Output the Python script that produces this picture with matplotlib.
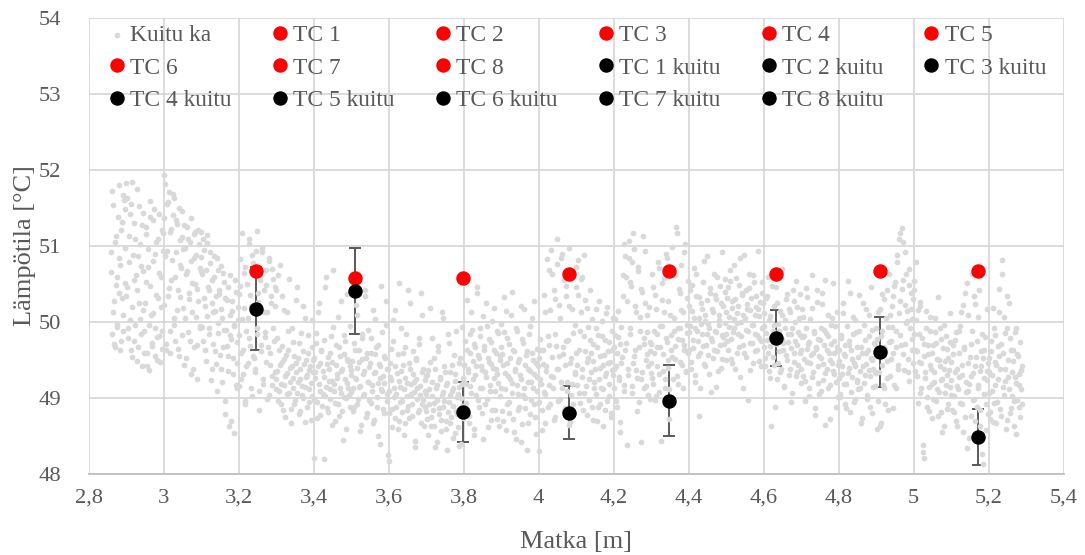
import matplotlib
matplotlib.use("Agg")
import matplotlib.pyplot as plt

plt.rcParams['font.family'] = ['Liberation Serif', 'DejaVu Serif']

# Fibre (DTS) temperature along the pipe
fiber_x = [
    2.861, 2.863, 2.866, 2.868, 2.871, 2.873, 2.876, 2.878, 2.881, 2.883, 2.886, 2.888, 2.891, 2.893, 2.896, 2.898,
    2.901, 2.903, 2.906, 2.908, 2.911, 2.914, 2.916, 2.918, 2.921, 2.924, 2.927, 2.929, 2.931, 2.934, 2.937, 2.939, 2.942, 2.944, 2.946, 2.949,
    2.952, 2.954, 2.957, 2.959, 2.962, 2.964, 2.967, 2.970, 2.972, 2.974, 2.977, 2.980, 2.982, 2.985, 2.987, 2.989, 2.992, 2.995, 2.997, 2.999,
    3.001, 3.003, 3.006, 3.008, 3.011, 3.014, 3.016, 3.018, 3.021, 3.024, 3.027, 3.029, 3.031, 3.034, 3.037, 3.039, 3.042, 3.044, 3.046, 3.049,
    3.052, 3.054, 3.057, 3.059, 3.062, 3.064, 3.067, 3.070, 3.072, 3.074, 3.077, 3.080, 3.082, 3.085, 3.087, 3.089, 3.092, 3.095, 3.097, 3.099,
    3.101, 3.103, 3.106, 3.108, 3.111, 3.114, 3.116, 3.118, 3.121, 3.124, 3.127, 3.129, 3.131, 3.134, 3.137, 3.139, 3.142, 3.144, 3.146, 3.149,
    3.152, 3.154, 3.157, 3.159, 3.162, 3.164, 3.167, 3.170, 3.172, 3.174, 3.177, 3.180, 3.182, 3.185, 3.187, 3.189, 3.192, 3.195, 3.197, 3.199,
    3.201, 3.203, 3.206, 3.208, 3.211, 3.214, 3.216, 3.218, 3.221, 3.224, 3.227, 3.229, 3.231, 3.234, 3.237, 3.239, 3.242, 3.244, 3.246, 3.249,
    3.252, 3.254, 3.257, 3.259, 3.262, 3.264, 3.267, 3.270, 3.272, 3.274, 3.277, 3.280, 3.282, 3.285, 3.287, 3.289, 3.292, 3.295, 3.297, 3.299,
    3.301, 3.303, 3.306, 3.308, 3.311, 3.314, 3.316, 3.318, 3.321, 3.324, 3.327, 3.329, 3.331, 3.334, 3.337, 3.339, 3.342, 3.344, 3.346, 3.349,
    3.352, 3.354, 3.357, 3.359, 3.362, 3.364, 3.367, 3.370, 3.372, 3.374, 3.377, 3.380, 3.382, 3.385, 3.387, 3.389, 3.392, 3.395, 3.397, 3.399,
    3.401, 3.403, 3.406, 3.408, 3.411, 3.414, 3.416, 3.418, 3.421, 3.424, 3.427, 3.429, 3.431, 3.434, 3.437, 3.439, 3.442, 3.444, 3.446, 3.449,
    3.452, 3.454, 3.457, 3.459, 3.462, 3.464, 3.467, 3.470, 3.472, 3.474, 3.477, 3.480, 3.482, 3.485, 3.487, 3.489, 3.492, 3.495, 3.497, 3.499,
    3.501, 3.503, 3.506, 3.508, 3.511, 3.514, 3.516, 3.518, 3.521, 3.524, 3.527, 3.529, 3.531, 3.534, 3.537, 3.539, 3.542, 3.544, 3.546, 3.549,
    3.552, 3.554, 3.557, 3.559, 3.562, 3.564, 3.567, 3.570, 3.572, 3.574, 3.577, 3.580, 3.582, 3.585, 3.587, 3.589, 3.592, 3.595, 3.597, 3.599,
    3.601, 3.603, 3.606, 3.608, 3.611, 3.614, 3.616, 3.618, 3.621, 3.624, 3.627, 3.629, 3.631, 3.634, 3.637, 3.639, 3.642, 3.644, 3.646, 3.649,
    3.652, 3.654, 3.657, 3.659, 3.662, 3.664, 3.667, 3.670, 3.672, 3.674, 3.677, 3.680, 3.682, 3.685, 3.687, 3.689, 3.692, 3.695, 3.697, 3.699,
    3.701, 3.703, 3.706, 3.708, 3.711, 3.714, 3.716, 3.718, 3.721, 3.724, 3.727, 3.729, 3.731, 3.734, 3.737, 3.739, 3.742, 3.744, 3.746, 3.749,
    3.752, 3.754, 3.757, 3.759, 3.762, 3.764, 3.767, 3.770, 3.772, 3.774, 3.777, 3.780, 3.782, 3.785, 3.787, 3.789, 3.792, 3.795, 3.797, 3.799,
    3.801, 3.803, 3.806, 3.808, 3.811, 3.814, 3.816, 3.818, 3.821, 3.824, 3.827, 3.829, 3.831, 3.834, 3.837, 3.839, 3.842, 3.844, 3.846, 3.849,
    3.852, 3.854, 3.857, 3.859, 3.862, 3.864, 3.867, 3.870, 3.872, 3.874, 3.877, 3.880, 3.882, 3.885, 3.887, 3.889, 3.892, 3.895, 3.897, 3.899,
    3.901, 3.903, 3.906, 3.908, 3.911, 3.914, 3.916, 3.918, 3.921, 3.924, 3.927, 3.929, 3.931, 3.934, 3.937, 3.939, 3.942, 3.944, 3.946, 3.949,
    3.952, 3.954, 3.957, 3.959, 3.962, 3.964, 3.967, 3.970, 3.972, 3.974, 3.977, 3.980, 3.982, 3.985, 3.987, 3.989, 3.992, 3.995, 3.997, 3.999,
    4.001, 4.003, 4.006, 4.008, 4.011, 4.014, 4.016, 4.018, 4.021, 4.024, 4.027, 4.029, 4.031, 4.034, 4.037, 4.039, 4.042, 4.044, 4.046, 4.049,
    4.052, 4.054, 4.057, 4.059, 4.062, 4.064, 4.067, 4.070, 4.072, 4.074, 4.077, 4.080, 4.082, 4.085, 4.087, 4.089, 4.092, 4.095, 4.097, 4.099,
    4.101, 4.103, 4.106, 4.108, 4.111, 4.114, 4.116, 4.118, 4.121, 4.124, 4.127, 4.129, 4.131, 4.134, 4.137, 4.139, 4.142, 4.144, 4.146, 4.149,
    4.152, 4.154, 4.157, 4.159, 4.162, 4.164, 4.167, 4.170, 4.172, 4.174, 4.177, 4.180, 4.182, 4.185, 4.187, 4.189, 4.192, 4.195, 4.197, 4.199,
    4.201, 4.203, 4.206, 4.208, 4.211, 4.214, 4.216, 4.218, 4.221, 4.224, 4.227, 4.229, 4.231, 4.234, 4.237, 4.239, 4.242, 4.244, 4.246, 4.249,
    4.252, 4.254, 4.257, 4.259, 4.262, 4.264, 4.267, 4.270, 4.272, 4.274, 4.277, 4.280, 4.282, 4.285, 4.287, 4.289, 4.292, 4.295, 4.297, 4.299,
    4.301, 4.303, 4.306, 4.308, 4.311, 4.314, 4.316, 4.318, 4.321, 4.324, 4.327, 4.329, 4.331, 4.334, 4.337, 4.339, 4.342, 4.344, 4.346, 4.349,
    4.352, 4.354, 4.357, 4.359, 4.362, 4.364, 4.367, 4.370, 4.372, 4.374, 4.377, 4.380, 4.382, 4.385, 4.387, 4.389, 4.392, 4.395, 4.397, 4.399,
    4.401, 4.403, 4.406, 4.408, 4.411, 4.414, 4.416, 4.418, 4.421, 4.424, 4.427, 4.429, 4.431, 4.434, 4.437, 4.439, 4.442, 4.444, 4.446, 4.449,
    4.452, 4.454, 4.457, 4.459, 4.462, 4.464, 4.467, 4.470, 4.472, 4.474, 4.477, 4.480, 4.482, 4.485, 4.487, 4.489, 4.492, 4.495, 4.497, 4.499,
    4.501, 4.503, 4.506, 4.508, 4.511, 4.514, 4.516, 4.518, 4.521, 4.524, 4.527, 4.529, 4.531, 4.534, 4.537, 4.539, 4.542, 4.544, 4.546, 4.549,
    4.552, 4.554, 4.557, 4.559, 4.562, 4.564, 4.567, 4.570, 4.572, 4.574, 4.577, 4.580, 4.582, 4.585, 4.587, 4.589, 4.592, 4.595, 4.597, 4.599,
    4.601, 4.603, 4.606, 4.608, 4.611, 4.614, 4.616, 4.618, 4.621, 4.624, 4.627, 4.629, 4.631, 4.634, 4.637, 4.639, 4.642, 4.644, 4.646, 4.649,
    4.652, 4.654, 4.657, 4.659, 4.662, 4.664, 4.667, 4.670, 4.672, 4.674, 4.677, 4.680, 4.682, 4.685, 4.687, 4.689, 4.692, 4.695, 4.697, 4.699,
    4.701, 4.703, 4.706, 4.708, 4.711, 4.714, 4.716, 4.718, 4.721, 4.724, 4.727, 4.729, 4.731, 4.734, 4.737, 4.739, 4.742, 4.744, 4.746, 4.749,
    4.752, 4.754, 4.757, 4.759, 4.762, 4.764, 4.767, 4.770, 4.772, 4.774, 4.777, 4.780, 4.782, 4.785, 4.787, 4.789, 4.792, 4.795, 4.797, 4.799,
    4.801, 4.803, 4.806, 4.808, 4.811, 4.814, 4.816, 4.818, 4.821, 4.824, 4.827, 4.829, 4.831, 4.834, 4.837, 4.839, 4.842, 4.844, 4.846, 4.849,
    4.852, 4.854, 4.857, 4.859, 4.862, 4.864, 4.867, 4.870, 4.872, 4.874, 4.877, 4.880, 4.882, 4.885, 4.887, 4.889, 4.892, 4.895, 4.897, 4.899,
    4.901, 4.903, 4.906, 4.908, 4.911, 4.914, 4.916, 4.918, 4.921, 4.924, 4.927, 4.929, 4.931, 4.934, 4.937, 4.939, 4.942, 4.944, 4.946, 4.949,
    4.952, 4.954, 4.957, 4.959, 4.962, 4.964, 4.967, 4.970, 4.972, 4.974, 4.977, 4.980, 4.982, 4.985, 4.987, 4.989, 4.992, 4.995, 4.997, 4.999,
    5.001, 5.003, 5.006, 5.008, 5.011, 5.014, 5.016, 5.018, 5.021, 5.024, 5.027, 5.029, 5.031, 5.034, 5.037, 5.039, 5.042, 5.044, 5.046, 5.049,
    5.052, 5.054, 5.057, 5.059, 5.062, 5.064, 5.067, 5.070, 5.072, 5.074, 5.077, 5.080, 5.082, 5.085, 5.087, 5.089, 5.092, 5.095, 5.097, 5.099,
    5.101, 5.103, 5.106, 5.108, 5.111, 5.114, 5.116, 5.118, 5.121, 5.124, 5.127, 5.129, 5.131, 5.134, 5.137, 5.139, 5.142, 5.144, 5.146, 5.149,
    5.152, 5.154, 5.157, 5.159, 5.162, 5.164, 5.167, 5.170, 5.172, 5.174, 5.177, 5.180, 5.182, 5.185, 5.187, 5.189, 5.192, 5.195, 5.197, 5.199,
    5.201, 5.203, 5.206, 5.208, 5.211, 5.214, 5.216, 5.218, 5.221, 5.224, 5.227, 5.229, 5.231, 5.234, 5.237, 5.239, 5.242, 5.244, 5.246, 5.249,
    5.252, 5.254, 5.257, 5.259, 5.262, 5.264, 5.267, 5.270, 5.272, 5.274, 5.277, 5.280, 5.282, 5.285, 5.287, 5.289,
    # interleaved samples
    2.860, 2.862, 2.865, 2.867, 2.870, 2.872, 2.875, 2.877, 2.880, 2.882, 2.885, 2.887, 2.890, 2.892, 2.895, 2.897,
    2.900, 2.902, 2.905, 2.907, 2.910, 2.912, 2.915, 2.917, 2.920, 2.922, 2.925, 2.928, 2.930, 2.933, 2.935, 2.938, 2.940, 2.943, 2.945, 2.948,
    2.950, 2.953, 2.955, 2.958, 2.960, 2.963, 2.965, 2.968, 2.971, 2.973, 2.976, 2.978, 2.981, 2.983, 2.986, 2.988, 2.990, 2.993, 2.996, 2.998,
    3.000, 3.002, 3.005, 3.007, 3.010, 3.012, 3.015, 3.017, 3.020, 3.022, 3.025, 3.028, 3.030, 3.033, 3.035, 3.038, 3.040, 3.043, 3.045, 3.048,
    3.050, 3.053, 3.055, 3.058, 3.060, 3.063, 3.065, 3.068, 3.071, 3.073, 3.076, 3.078, 3.081, 3.083, 3.086, 3.088, 3.090, 3.093, 3.096, 3.098,
    3.100, 3.102, 3.105, 3.107, 3.110, 3.112, 3.115, 3.117, 3.120, 3.122, 3.125, 3.128, 3.130, 3.133, 3.135, 3.138, 3.140, 3.143, 3.145, 3.148,
    3.150, 3.153, 3.155, 3.158, 3.160, 3.163, 3.165, 3.168, 3.171, 3.173, 3.176, 3.178, 3.181, 3.183, 3.186, 3.188, 3.190, 3.193, 3.196, 3.198,
    3.200, 3.202, 3.205, 3.207, 3.210, 3.212, 3.215, 3.217, 3.220, 3.222, 3.225, 3.228, 3.230, 3.233, 3.235, 3.238, 3.240, 3.243, 3.245, 3.248,
    3.250, 3.253, 3.255, 3.258, 3.260, 3.263, 3.265, 3.268, 3.271, 3.273, 3.276, 3.278, 3.281, 3.283, 3.286, 3.288, 3.290, 3.293, 3.296, 3.298,
    3.300, 3.302, 3.305, 3.307, 3.310, 3.312, 3.315, 3.317, 3.320, 3.322, 3.325, 3.328, 3.330, 3.333, 3.335, 3.338, 3.340, 3.343, 3.345, 3.348,
    3.350, 3.353, 3.355, 3.358, 3.360, 3.363, 3.365, 3.368, 3.371, 3.373, 3.376, 3.378, 3.381, 3.383, 3.386, 3.388, 3.390, 3.393, 3.396, 3.398,
    3.400, 3.402, 3.405, 3.407, 3.410, 3.412, 3.415, 3.417, 3.420, 3.422, 3.425, 3.428, 3.430, 3.433, 3.435, 3.438, 3.440, 3.443, 3.445, 3.448,
    3.450, 3.453, 3.455, 3.458, 3.460, 3.463, 3.465, 3.468, 3.471, 3.473, 3.476, 3.478, 3.481, 3.483, 3.486, 3.488, 3.490, 3.493, 3.496, 3.498,
    3.500, 3.502, 3.505, 3.507, 3.510, 3.512, 3.515, 3.517, 3.520, 3.522, 3.525, 3.528, 3.530, 3.533, 3.535, 3.538, 3.540, 3.543, 3.545, 3.548,
    3.550, 3.553, 3.555, 3.558, 3.560, 3.563, 3.565, 3.568, 3.571, 3.573, 3.576, 3.578, 3.581, 3.583, 3.586, 3.588, 3.590, 3.593, 3.596, 3.598,
    3.600, 3.602, 3.605, 3.607, 3.610, 3.612, 3.615, 3.617, 3.620, 3.622, 3.625, 3.628, 3.630, 3.633, 3.635, 3.638, 3.640, 3.643, 3.645, 3.648,
    3.650, 3.653, 3.655, 3.658, 3.660, 3.663, 3.665, 3.668, 3.671, 3.673, 3.676, 3.678, 3.681, 3.683, 3.686, 3.688, 3.690, 3.693, 3.696, 3.698,
    3.700, 3.702, 3.705, 3.707, 3.710, 3.712, 3.715, 3.717, 3.720, 3.722, 3.725, 3.728, 3.730, 3.733, 3.735, 3.738, 3.740, 3.743, 3.745, 3.748,
    3.750, 3.753, 3.755, 3.758, 3.760, 3.763, 3.765, 3.768, 3.771, 3.773, 3.776, 3.778, 3.781, 3.783, 3.786, 3.788, 3.790, 3.793, 3.796, 3.798,
    3.800, 3.802, 3.805, 3.807, 3.810, 3.812, 3.815, 3.817, 3.820, 3.822, 3.825, 3.828, 3.830, 3.833, 3.835, 3.838, 3.840, 3.843, 3.845, 3.848,
    3.850, 3.853, 3.855, 3.858, 3.860, 3.863, 3.865, 3.868, 3.871, 3.873, 3.876, 3.878, 3.881, 3.883, 3.886, 3.888, 3.890, 3.893, 3.896, 3.898,
    3.900, 3.902, 3.905, 3.907, 3.910, 3.912, 3.915, 3.917, 3.920, 3.922, 3.925, 3.928, 3.930, 3.933, 3.935, 3.938, 3.940, 3.943, 3.945, 3.948,
    3.950, 3.953, 3.955, 3.958, 3.960, 3.963, 3.965, 3.968, 3.971, 3.973, 3.976, 3.978, 3.981, 3.983, 3.986, 3.988, 3.990, 3.993, 3.996, 3.998,
    4.000, 4.002, 4.005, 4.007, 4.010, 4.012, 4.015, 4.017, 4.020, 4.022, 4.025, 4.028, 4.030, 4.033, 4.035, 4.038, 4.040, 4.043, 4.045, 4.048,
    4.050, 4.053, 4.055, 4.058, 4.060, 4.063, 4.065, 4.068, 4.071, 4.073, 4.076, 4.078, 4.081, 4.083, 4.086, 4.088, 4.090, 4.093, 4.096, 4.098,
    4.100, 4.102, 4.105, 4.107, 4.110, 4.112, 4.115, 4.117, 4.120, 4.122, 4.125, 4.128, 4.130, 4.133, 4.135, 4.138, 4.140, 4.143, 4.145, 4.148,
    4.150, 4.153, 4.155, 4.158, 4.160, 4.163, 4.165, 4.168, 4.171, 4.173, 4.176, 4.178, 4.181, 4.183, 4.186, 4.188, 4.190, 4.193, 4.196, 4.198,
    4.200, 4.202, 4.205, 4.207, 4.210, 4.212, 4.215, 4.217, 4.220, 4.222, 4.225, 4.228, 4.230, 4.233, 4.235, 4.238, 4.240, 4.243, 4.245, 4.248,
    4.250, 4.253, 4.255, 4.258, 4.260, 4.263, 4.265, 4.268, 4.271, 4.273, 4.276, 4.278, 4.281, 4.283, 4.286, 4.288, 4.290, 4.293, 4.296, 4.298,
    4.300, 4.302, 4.305, 4.307, 4.310, 4.312, 4.315, 4.317, 4.320, 4.322, 4.325, 4.328, 4.330, 4.333, 4.335, 4.338, 4.340, 4.343, 4.345, 4.348,
    4.350, 4.353, 4.355, 4.358, 4.360, 4.363, 4.365, 4.368, 4.371, 4.373, 4.376, 4.378, 4.381, 4.383, 4.386, 4.388, 4.390, 4.393, 4.396, 4.398,
    4.400, 4.402, 4.405, 4.407, 4.410, 4.412, 4.415, 4.417, 4.420, 4.422, 4.425, 4.428, 4.430, 4.433, 4.435, 4.438, 4.440, 4.443, 4.445, 4.448,
    4.450, 4.453, 4.455, 4.458, 4.460, 4.463, 4.465, 4.468, 4.471, 4.473, 4.476, 4.478, 4.481, 4.483, 4.486, 4.488, 4.490, 4.493, 4.496, 4.498,
    4.500, 4.502, 4.505, 4.507, 4.510, 4.512, 4.515, 4.517, 4.520, 4.522, 4.525, 4.528, 4.530, 4.533, 4.535, 4.538, 4.540, 4.543, 4.545, 4.548,
    4.550, 4.553, 4.555, 4.558, 4.560, 4.563, 4.565, 4.568, 4.571, 4.573, 4.576, 4.578, 4.581, 4.583, 4.586, 4.588, 4.590, 4.593, 4.596, 4.598,
    4.600, 4.602, 4.605, 4.607, 4.610, 4.612, 4.615, 4.617, 4.620, 4.622, 4.625, 4.628, 4.630, 4.633, 4.635, 4.638, 4.640, 4.643, 4.645, 4.648,
    4.650, 4.653, 4.655, 4.658, 4.660, 4.663, 4.665, 4.668, 4.671, 4.673, 4.676, 4.678, 4.681, 4.683, 4.686, 4.688, 4.690, 4.693, 4.696, 4.698,
    4.700, 4.702, 4.705, 4.707, 4.710, 4.712, 4.715, 4.717, 4.720, 4.722, 4.725, 4.728, 4.730, 4.733, 4.735, 4.738, 4.740, 4.743, 4.745, 4.748,
    4.750, 4.753, 4.755, 4.758, 4.760, 4.763, 4.765, 4.768, 4.771, 4.773, 4.776, 4.778, 4.781, 4.783, 4.786, 4.788, 4.790, 4.793, 4.796, 4.798,
    4.800, 4.802, 4.805, 4.807, 4.810, 4.812, 4.815, 4.817, 4.820, 4.822, 4.825, 4.828, 4.830, 4.833, 4.835, 4.838, 4.840, 4.843, 4.845, 4.848,
    4.850, 4.853, 4.855, 4.858, 4.860, 4.863, 4.865, 4.868, 4.871, 4.873, 4.876, 4.878, 4.881, 4.883, 4.886, 4.888, 4.890, 4.893, 4.896, 4.898,
    4.900, 4.902, 4.905, 4.907, 4.910, 4.912, 4.915, 4.917, 4.920, 4.922, 4.925, 4.928, 4.930, 4.933, 4.935, 4.938, 4.940, 4.943, 4.945, 4.948,
    4.950, 4.953, 4.955, 4.958, 4.960, 4.963, 4.965, 4.968, 4.971, 4.973, 4.976, 4.978, 4.981, 4.983, 4.986, 4.988, 4.990, 4.993, 4.996, 4.998,
    5.000, 5.002, 5.005, 5.007, 5.010, 5.012, 5.015, 5.017, 5.020, 5.022, 5.025, 5.028, 5.030, 5.033, 5.035, 5.038, 5.040, 5.043, 5.045, 5.048,
    5.050, 5.053, 5.055, 5.058, 5.060, 5.063, 5.065, 5.068, 5.071, 5.073, 5.076, 5.078, 5.081, 5.083, 5.086, 5.088, 5.090, 5.093, 5.096, 5.098,
    5.100, 5.102, 5.105, 5.107, 5.110, 5.112, 5.115, 5.117, 5.120, 5.122, 5.125, 5.128, 5.130, 5.133, 5.135, 5.138, 5.140, 5.143, 5.145, 5.148,
    5.150, 5.153, 5.155, 5.158, 5.160, 5.163, 5.165, 5.168, 5.171, 5.173, 5.176, 5.178, 5.181, 5.183, 5.186, 5.188, 5.190, 5.193, 5.196, 5.198,
    5.200, 5.202, 5.205, 5.207, 5.210, 5.212, 5.215, 5.217, 5.220, 5.222, 5.225, 5.228, 5.230, 5.233, 5.235, 5.238, 5.240, 5.243, 5.245, 5.248,
    5.250, 5.253, 5.255, 5.258, 5.260, 5.263, 5.265, 5.268, 5.271, 5.273, 5.276, 5.278, 5.281, 5.283, 5.286, 5.288,
]
fiber_y = [
    50.65, 51.72, 50.12, 49.71, 51.05, 50.48, 49.93, 51.38, 50.84, 49.62, 51.20, 50.31, 51.66, 49.88, 50.97, 51.48,
    51.82, 50.45, 49.78, 51.12, 50.02, 51.55, 49.53, 50.88, 51.30, 49.95, 50.61, 51.74, 49.66, 50.24, 51.02, 50.73, 49.41, 51.43, 50.15, 49.87,
    51.25, 50.52, 49.58, 50.96, 49.36, 51.37, 50.08, 49.72, 50.80, 51.48, 49.92, 50.35, 49.50, 51.08, 50.64, 49.81, 50.19, 51.21, 49.64, 50.93,
    51.93, 50.86, 49.62, 51.54, 50.33, 51.71, 49.88, 51.18, 50.55, 51.40, 50.04, 51.62, 49.74, 50.92, 51.28, 50.41, 49.55, 51.07, 50.70, 51.46,
    50.18, 49.43, 50.97, 50.62, 51.24, 49.86, 50.38, 51.05, 49.31, 50.79, 50.12, 51.15, 49.67, 50.49, 50.88, 49.25, 50.27, 51.02, 49.94, 50.66,
    51.18, 50.62, 49.75, 50.94, 50.21, 49.48, 51.03, 50.46, 49.92, 50.77, 49.23, 50.55, 50.12, 50.86, 49.61, 50.34, 49.08, 50.68, 49.85, 50.41,
    49.37, 50.73, 50.05, 49.66, 50.52, 48.95, 49.89, 50.28, 49.54, 48.62, 50.61, 49.77, 50.14, 49.31, 49.96, 48.53, 50.39, 49.45, 49.12, 50.02,
    49.82, 50.47, 49.25, 51.16, 49.63, 50.18, 48.96, 50.72, 49.41, 50.05, 51.02, 49.78, 50.35, 49.12, 50.88, 49.55, 50.61, 49.34, 50.93, 49.92,
    50.26, 48.84, 50.54, 49.69, 50.97, 49.18, 50.41, 49.86, 50.68, 49.47, 50.12, 49.03, 50.79, 49.59, 50.33, 49.28, 50.56, 49.74, 50.21, 49.11,
    50.42, 49.35, 48.96, 49.62, 50.74, 49.18, 49.47, 48.83, 50.15, 49.28, 49.56, 49.04, 49.88, 50.56, 49.21, 48.67, 49.41, 49.13, 49.73, 48.92,
    49.33, 50.28, 49.06, 49.52, 48.78, 49.24, 49.85, 49.15, 48.99, 49.44, 50.05, 49.27, 48.88, 49.58, 49.11, 49.36, 48.71, 49.67, 49.02, 49.49,
    48.21, 49.33, 49.72, 48.94, 50.12, 49.18, 49.46, 48.77, 49.61, 49.05, 48.19, 49.27, 50.45, 49.14, 48.86, 49.53, 49.38, 48.98, 49.81, 49.22,
    50.68, 49.09, 48.69, 49.43, 49.26, 48.91, 49.67, 49.12, 50.27, 49.35, 48.82, 49.57, 49.01, 49.74, 48.58, 49.19, 49.48, 49.03, 49.94, 49.29,
    49.36, 50.58, 49.12, 48.87, 49.63, 49.24, 50.08, 48.98, 49.47, 49.15, 48.64, 49.78, 49.31, 49.05, 50.34, 49.52, 48.79, 49.21, 49.89, 49.40,
    48.93, 49.58, 49.17, 50.15, 48.71, 49.33, 49.66, 49.01, 48.49, 49.44, 49.26, 50.47, 49.09, 48.85, 49.55, 49.19, 49.95, 48.96, 49.38, 48.24,
    48.16, 49.27, 49.64, 48.85, 50.02, 49.13, 48.73, 49.41, 49.05, 48.58, 50.51, 49.22, 48.94, 49.35, 48.81, 49.58, 49.11, 48.67, 49.83, 49.02,
    48.89, 49.46, 50.24, 49.18, 48.76, 49.31, 49.07, 48.43, 49.52, 49.24, 48.98, 49.71, 48.84, 49.15, 50.37, 48.92, 49.38, 48.62, 49.09, 49.28,
    49.04, 48.72, 49.36, 48.91, 50.18, 48.63, 49.21, 48.84, 49.52, 48.35, 49.12, 48.97, 49.68, 48.78, 49.27, 48.56, 49.03, 50.04, 48.88, 49.41,
    48.69, 49.17, 48.31, 49.84, 48.94, 49.33, 48.75, 49.08, 48.47, 49.56, 49.22, 48.82, 49.01, 48.61, 49.45, 49.14, 48.39, 49.93, 48.89, 49.26,
    49.21, 50.55, 48.93, 49.62, 49.37, 48.76, 49.84, 49.15, 50.12, 49.48, 48.58, 49.71, 49.29, 49.03, 50.37, 49.56, 48.87, 49.92, 49.41, 49.12,
    48.45, 49.68, 49.34, 50.24, 48.98, 49.52, 49.77, 49.09, 48.71, 49.44, 50.01, 49.26, 49.63, 48.84, 49.38, 49.88, 49.19, 48.62, 49.55, 49.97,
    49.66, 48.82, 49.43, 50.32, 49.11, 48.57, 49.78, 49.28, 48.94, 49.52, 50.08, 49.19, 48.72, 49.61, 49.35, 48.46, 49.87, 49.04, 49.47, 48.88,
    50.21, 49.24, 48.65, 49.72, 49.13, 48.99, 49.56, 48.31, 49.38, 49.83, 48.78, 49.21, 50.04, 49.49, 48.91, 49.31, 48.52, 49.64, 49.08, 49.42,
    48.29, 49.25, 49.62, 48.83, 49.44, 49.07, 50.12, 48.66, 49.35, 49.81, 50.68, 49.16, 48.92, 50.94, 49.53, 49.27, 50.41, 48.75, 49.68, 51.08,
    49.38, 50.22, 48.98, 50.83, 49.12, 49.57, 50.55, 48.86, 49.74, 50.33, 49.21, 48.64, 50.97, 49.46, 49.03, 50.16, 49.85, 48.79, 49.31, 49.59,
    50.72, 49.43, 50.35, 49.06, 49.88, 50.56, 49.27, 48.84, 50.87, 49.61, 49.15, 50.18, 49.52, 48.97, 49.76, 49.34, 50.03, 48.71, 49.48, 49.21,
    49.92, 49.04, 49.67, 48.88, 50.27, 49.39, 49.12, 49.81, 48.62, 49.56, 49.28, 50.11, 48.95, 49.45, 49.73, 49.18, 48.79, 49.63, 49.36, 50.05,
    49.37, 49.82, 48.96, 49.58, 50.14, 49.23, 48.68, 49.71, 49.45, 50.33, 49.08, 51.02, 49.62, 50.58, 48.37, 49.29, 50.84, 49.91, 50.47, 49.15,
    51.17, 49.54, 50.21, 49.36, 48.82, 50.72, 49.67, 50.06, 49.24, 48.41, 50.39, 49.78, 49.12, 50.93, 49.49, 49.86, 49.03, 50.19, 49.61, 49.32,
    49.45, 50.62, 49.18, 49.87, 50.35, 49.02, 49.66, 50.78, 49.31, 49.94, 48.43, 50.51, 49.57, 50.12, 49.24, 50.89, 49.73, 49.39, 50.27, 49.11,
    49.82, 50.66, 49.53, 48.94, 50.04, 49.68, 51.24, 49.28, 49.91, 50.43, 49.47, 50.15, 49.76, 49.13, 50.92, 49.62, 49.35, 50.31, 49.85, 49.58,
    49.86, 50.42, 49.37, 50.14, 49.65, 50.71, 49.92, 49.21, 50.33, 49.74, 50.05, 48.76, 49.58, 50.24, 49.83, 50.52, 49.44, 50.01, 49.69, 50.86,
    49.97, 49.31, 50.38, 49.78, 50.17, 49.52, 50.63, 49.88, 49.14, 50.29, 49.61, 50.08, 49.95, 50.47, 49.39, 49.82, 50.21, 49.71, 50.56, 49.49,
    50.12, 49.74, 50.46, 49.93, 50.68, 49.51, 50.27, 49.86, 50.03, 49.38, 50.57, 49.98, 50.21, 49.67, 50.84, 49.81, 50.35, 49.12, 50.09, 49.59,
    50.41, 49.89, 50.16, 48.97, 50.62, 49.72, 50.31, 49.95, 49.46, 50.52, 49.84, 50.19, 49.63, 50.93, 49.78, 50.07, 49.42, 50.38, 49.91, 50.24,
    49.94, 49.52, 50.31, 49.76, 50.58, 49.35, 50.07, 49.68, 48.62, 49.88, 50.21, 49.43, 49.79, 50.46, 49.24, 49.97, 49.61, 50.14, 49.38, 50.69,
    49.72, 49.15, 50.02, 49.56, 50.36, 49.83, 49.29, 50.12, 49.65, 48.94, 49.91, 50.27, 49.47, 49.74, 50.53, 49.33, 49.86, 50.05, 49.58, 49.19,
    49.62, 50.17, 49.28, 49.81, 48.95, 50.44, 49.47, 49.71, 49.12, 50.03, 49.56, 50.61, 49.34, 49.88, 48.77, 49.64, 50.26, 49.41, 49.77, 49.05,
    49.92, 49.52, 50.38, 49.23, 49.69, 48.64, 49.85, 49.37, 50.09, 49.58, 49.16, 49.96, 49.45, 50.51, 49.31, 49.74, 48.88, 49.61, 50.13, 49.43,
    49.48, 49.05, 49.82, 49.31, 50.24, 49.57, 48.92, 49.69, 49.18, 50.53, 49.39, 49.74, 48.81, 49.62, 49.27, 50.06, 49.45, 48.98, 49.86, 49.21,
    49.53, 50.35, 49.12, 49.67, 48.73, 49.42, 49.95, 49.29, 50.17, 49.58, 49.03, 49.81, 49.36, 48.88, 50.46, 49.49, 49.14, 49.72, 49.33, 49.91,
    49.55, 48.58, 50.12, 49.34, 48.62, 49.81, 50.36, 49.17, 49.66, 48.91, 50.05, 49.48, 49.93, 50.62, 49.28, 49.74, 50.21, 48.86, 49.59, 50.47,
    49.12, 49.87, 50.78, 49.43, 51.08, 50.27, 49.69, 51.23, 50.55, 49.36, 50.91, 49.98, 50.14, 49.51, 50.69, 49.22, 50.38, 49.77, 50.03, 49.45,
    50.41, 49.63, 50.78, 49.28, 50.15, 49.84, 49.06, 50.26, 49.45, 48.28, 49.71, 48.21, 49.33, 49.92, 48.87, 49.57, 49.14, 50.06, 49.38, 48.73,
    49.69, 49.21, 49.86, 48.96, 49.51, 50.32, 49.07, 49.42, 48.81, 49.77, 49.25, 49.95, 48.62, 49.48, 49.16, 49.64, 48.92, 49.36, 50.11, 49.03,
    49.23, 48.84, 49.57, 49.02, 49.76, 48.69, 49.38, 49.11, 49.88, 48.93, 50.12, 49.29, 48.55, 49.64, 50.37, 49.07, 48.33, 49.45, 50.08, 49.18,
    48.76, 49.71, 50.62, 49.32, 48.98, 50.23, 49.53, 48.87, 49.16, 50.41, 48.62, 49.42, 49.84, 48.12, 49.26, 49.63, 48.91, 50.16, 49.35, 48.78,
    49.33, 48.72, 49.61, 49.08, 50.18, 48.93, 49.47, 49.82, 48.66, 49.24, 50.43, 49.55, 48.85, 49.71, 50.81, 49.14, 50.06, 49.38, 48.58, 49.92,
    49.27, 50.25, 48.79, 49.63, 49.02, 49.48, 48.95, 49.86, 49.19, 48.52, 49.57, 49.31, 48.88, 49.73, 49.11, 49.42,
    # interleaved samples
    50.92, 49.84, 51.53, 50.27, 49.66, 51.12, 50.58, 49.97, 51.79, 50.38, 50.74, 49.75, 51.31, 50.09, 51.60, 50.51,
    50.34, 51.63, 49.91, 50.78, 51.41, 49.62, 50.19, 51.84, 50.55, 49.74, 51.09, 50.41, 49.48, 50.86, 51.52, 50.03, 49.83, 51.27, 50.67, 49.59,
    50.24, 51.15, 49.42, 50.72, 49.96, 51.58, 50.47, 49.68, 51.33, 50.11, 49.54, 50.89, 51.04, 49.79, 50.31, 51.42, 49.47, 50.58, 49.88, 51.16,
    51.36, 50.22, 51.81, 49.71, 50.93, 51.57, 50.44, 49.58, 51.22, 50.81, 51.68, 49.96, 50.58, 51.34, 50.15, 49.64, 51.49, 50.74, 50.32, 51.11,
    49.82, 50.96, 51.27, 50.05, 49.52, 50.67, 51.08, 50.29, 49.75, 51.36, 50.51, 49.38, 50.84, 51.18, 50.06, 49.69, 50.43, 51.21, 50.71, 49.91,
    50.85, 49.93, 51.09, 50.31, 49.62, 50.68, 50.07, 51.14, 49.84, 50.42, 50.91, 49.37, 50.25, 49.71, 50.59, 50.14, 49.44, 50.83, 49.98, 50.36,
    49.56, 50.17, 49.21, 50.64, 49.89, 50.31, 48.78, 49.68, 50.46, 49.35, 50.08, 49.82, 48.69, 50.27, 49.52, 49.94, 50.55, 49.16, 49.73, 50.19,
    50.36, 49.15, 50.82, 49.58, 50.03, 49.31, 50.64, 48.92, 49.87, 50.49, 49.46, 51.08, 49.68, 50.21, 49.02, 50.77, 49.52, 50.14, 49.37, 51.19,
    49.84, 50.38, 49.08, 50.59, 49.61, 50.91, 49.25, 50.12, 49.79, 50.48, 48.98, 49.66, 50.84, 49.43, 50.25, 49.17, 50.69, 49.91, 50.46, 49.34,
    49.24, 49.78, 50.61, 49.09, 49.43, 48.91, 49.68, 50.33, 49.17, 49.51, 48.74, 49.32, 50.12, 49.62, 49.06, 49.39, 48.85, 49.91, 49.26, 49.54,
    48.97, 49.45, 50.45, 49.21, 49.72, 48.82, 49.37, 49.03, 49.61, 50.21, 49.14, 48.68, 49.49, 49.29, 49.82, 48.94, 49.41, 49.19, 50.02, 49.33,
    49.52, 48.97, 49.26, 49.85, 48.73, 49.41, 50.24, 49.08, 49.63, 48.89, 49.35, 49.76, 49.02, 50.58, 49.44, 48.81, 49.22, 49.59, 49.11, 48.64,
    49.47, 49.93, 49.18, 48.93, 49.69, 49.31, 50.06, 48.76, 49.54, 49.06, 49.38, 48.44, 49.82, 49.25, 48.99, 49.51, 50.36, 49.13, 48.87, 49.41,
    49.07, 49.48, 48.82, 49.72, 49.26, 50.22, 48.91, 49.39, 49.63, 49.14, 48.56, 49.51, 49.84, 49.02, 49.35, 50.41, 48.74, 49.58, 49.21, 48.97,
    49.46, 49.78, 49.09, 48.66, 49.32, 50.03, 49.57, 48.88, 49.19, 49.69, 49.41, 48.39, 49.11, 49.86, 49.28, 48.79, 49.52, 50.27, 49.04, 49.37,
    49.08, 48.79, 49.46, 49.23, 48.61, 49.74, 49.01, 50.15, 48.87, 49.32, 49.57, 48.69, 49.14, 49.92, 48.96, 49.43, 48.51, 49.26, 49.66, 48.83,
    49.19, 50.41, 48.73, 49.37, 49.04, 48.92, 49.61, 49.21, 48.35, 49.49, 49.12, 48.81, 49.78, 49.03, 48.66, 49.34, 50.09, 48.97, 49.23, 48.88,
    48.82, 49.29, 48.51, 49.11, 49.47, 48.74, 49.02, 49.78, 48.93, 48.62, 49.38, 49.16, 48.42, 49.61, 48.86, 49.24, 48.71, 50.12, 49.07, 48.95,
    49.34, 48.58, 49.19, 48.81, 49.72, 49.03, 48.67, 49.43, 48.89, 49.12, 48.53, 49.31, 49.88, 48.78, 49.05, 48.36, 49.52, 48.99, 49.18, 48.73,
    49.43, 48.86, 49.74, 49.18, 50.28, 49.33, 48.67, 49.58, 49.06, 49.89, 49.24, 48.51, 49.67, 49.41, 50.46, 48.97, 49.52, 49.13, 49.81, 48.79,
    49.36, 50.07, 49.62, 48.92, 49.27, 49.94, 48.61, 49.47, 49.17, 49.73, 48.84, 49.39, 50.18, 49.08, 49.59, 48.72, 49.31, 49.85, 49.02, 49.49,
    49.13, 49.57, 48.69, 49.86, 49.32, 50.14, 48.91, 49.45, 49.71, 48.79, 49.24, 50.39, 49.06, 49.63, 48.55, 49.38, 49.92, 49.17, 48.83, 49.51,
    49.29, 48.42, 49.77, 49.03, 50.17, 49.43, 48.86, 49.61, 49.21, 48.67, 49.94, 49.35, 48.97, 49.58, 49.12, 50.27, 48.75, 49.46, 49.27, 48.93,
    49.52, 48.94, 49.77, 49.18, 48.57, 49.63, 50.35, 49.04, 49.41, 50.82, 48.87, 49.69, 50.15, 49.28, 50.62, 49.12, 48.71, 49.84, 50.29, 49.37,
    50.76, 48.95, 49.55, 50.04, 49.21, 50.89, 49.67, 48.82, 49.43, 50.47, 49.09, 49.76, 50.21, 48.68, 49.52, 50.61, 49.18, 48.91, 49.95, 49.33,
    50.46, 49.17, 50.81, 49.63, 48.93, 50.12, 49.38, 50.59, 49.81, 49.06, 50.28, 49.47, 48.77, 49.93, 49.24, 50.42, 49.58, 48.87, 49.71, 49.13,
    49.37, 50.16, 48.69, 49.82, 49.25, 49.54, 48.91, 50.01, 49.43, 49.11, 49.76, 48.83, 49.32, 50.19, 49.61, 49.02, 49.47, 48.75, 49.88, 49.29,
    49.66, 49.12, 50.03, 49.41, 48.87, 49.79, 49.27, 48.54, 49.93, 49.53, 50.61, 49.17, 50.86, 49.72, 50.27, 49.38, 51.06, 49.84, 50.52, 49.06,
    50.78, 49.45, 50.95, 49.62, 50.12, 49.26, 50.66, 48.94, 49.88, 50.43, 49.34, 51.12, 49.71, 50.24, 49.15, 49.57, 50.08, 49.42, 48.98, 49.73,
    49.71, 49.26, 50.45, 49.58, 48.97, 50.16, 49.83, 49.42, 50.71, 49.07, 49.66, 50.28, 49.94, 49.35, 50.57, 49.13, 49.78, 50.84, 49.49, 48.72,
    50.09, 49.62, 50.98, 49.24, 49.87, 50.61, 49.51, 51.16, 49.77, 49.18, 50.37, 49.92, 50.74, 49.43, 50.12, 49.69, 51.02, 49.34, 49.96, 50.53,
    49.62, 50.21, 49.94, 49.47, 50.48, 49.76, 50.05, 49.29, 50.63, 49.88, 49.54, 50.32, 49.12, 49.97, 50.17, 49.68, 50.79, 49.41, 50.09, 49.83,
    50.28, 49.56, 49.92, 50.44, 49.07, 49.74, 50.13, 49.63, 50.35, 49.86, 50.58, 49.35, 50.02, 49.69, 50.24, 49.51, 50.91, 49.79, 49.98, 50.39,
    49.83, 50.31, 49.62, 50.06, 50.53, 49.77, 50.18, 49.45, 50.74, 49.91, 50.29, 49.58, 50.11, 49.84, 50.48, 49.27, 49.99, 50.37, 49.69, 50.88,
    50.04, 49.53, 50.23, 49.87, 50.44, 49.36, 50.15, 49.72, 50.61, 49.96, 50.08, 49.61, 50.33, 49.82, 50.17, 49.48, 50.26, 49.75, 50.52, 49.93,
    49.67, 50.11, 49.41, 49.85, 50.33, 49.58, 50.02, 49.26, 49.79, 50.47, 49.53, 49.96, 48.87, 49.71, 50.24, 49.46, 49.88, 50.64, 49.34, 49.77,
    50.08, 49.62, 49.14, 49.91, 50.29, 49.49, 49.73, 50.16, 49.37, 49.84, 49.06, 50.41, 49.58, 49.99, 49.28, 49.69, 50.19, 49.43, 49.82, 50.36,
    49.38, 49.79, 50.06, 49.51, 49.22, 49.91, 50.32, 49.64, 49.02, 49.73, 49.46, 50.18, 49.27, 49.58, 49.85, 48.86, 49.67, 50.41, 49.19, 49.55,
    49.76, 49.08, 50.23, 49.44, 49.89, 49.32, 50.55, 49.62, 49.13, 49.81, 49.49, 48.72, 49.71, 50.04, 49.35, 49.59, 49.94, 49.21, 49.67, 49.01,
    49.26, 49.63, 49.01, 49.78, 49.42, 50.11, 49.18, 49.55, 48.86, 49.94, 49.32, 49.69, 50.37, 49.07, 49.51, 49.84, 48.94, 49.41, 50.02, 49.23,
    49.66, 49.11, 49.87, 49.35, 48.67, 49.58, 50.24, 49.19, 49.76, 49.44, 48.98, 49.63, 50.09, 49.28, 49.52, 48.79, 49.89, 49.37, 49.71, 49.15,
    49.32, 49.77, 48.95, 49.54, 50.16, 48.66, 49.43, 49.88, 50.29, 49.12, 49.64, 50.41, 49.26, 48.83, 49.73, 50.08, 49.51, 49.93, 50.34, 49.17,
    50.52, 49.66, 50.87, 49.38, 50.11, 51.16, 49.82, 50.43, 49.57, 51.04, 50.22, 49.71, 50.63, 50.01, 49.34, 50.48, 49.91, 50.17, 49.63, 50.29,
    49.84, 50.53, 49.35, 50.02, 49.61, 48.93, 49.47, 50.21, 49.12, 49.78, 48.38, 49.54, 49.26, 50.14, 49.01, 49.69, 48.82, 49.43, 49.87, 49.18,
    49.58, 48.98, 49.34, 50.04, 49.72, 49.11, 48.76, 49.49, 49.91, 49.23, 48.54, 49.65, 49.38, 49.06, 49.81, 49.29, 48.85, 49.52, 49.14, 49.73,
    49.47, 49.02, 49.69, 48.81, 49.34, 49.86, 49.15, 48.62, 49.58, 49.27, 49.94, 48.91, 49.43, 50.22, 49.66, 48.74, 49.21, 50.51, 49.08, 48.47,
    49.53, 49.28, 49.87, 48.97, 50.33, 49.41, 48.69, 49.74, 49.13, 50.06, 49.35, 48.84, 49.61, 48.26, 49.52, 49.04, 49.79, 48.57, 49.23, 49.46,
    49.06, 49.52, 48.81, 49.74, 49.29, 48.68, 49.91, 49.16, 49.43, 48.94, 49.68, 50.12, 49.37, 48.76, 50.62, 49.58, 49.03, 49.85, 49.22, 50.34,
    48.71, 49.49, 49.11, 49.78, 48.86, 49.34, 49.62, 48.63, 49.27, 49.91, 48.97, 49.54, 49.16, 48.74, 49.36, 48.91,
]

# Thermocouple positions and readings
tc_x = [3.246, 3.511, 3.798, 4.080, 4.349, 4.632, 4.911, 5.173]
tc_y = [50.66, 50.57, 50.57, 50.62, 50.66, 50.62, 50.66, 50.66]
# Fibre temperature at the thermocouple positions, with deviation
kuitu_y = [50.17, 50.40, 48.81, 48.80, 48.96, 49.78, 49.60, 48.48]
kuitu_err = [0.55, 0.57, 0.39, 0.35, 0.47, 0.37, 0.46, 0.37]

x_ticks = [2.8, 3.0, 3.2, 3.4, 3.6, 3.8, 4.0, 4.2, 4.4, 4.6, 4.8, 5.0, 5.2, 5.4]
x_tick_labels = ['2,8', '3', '3,2', '3,4', '3,6', '3,8', '4', '4,2', '4,4', '4,6', '4,8', '5', '5,2', '5,4']
y_ticks = [48, 49, 50, 51, 52, 53, 54]

txt = '#595959'
fig = plt.figure(figsize=(10.85, 5.55), dpi=100)
ax = fig.add_axes([0.0816, 0.1468, 0.8986, 0.8216])

handles = []
h = ax.scatter(fiber_x, fiber_y, s=17, color='#d9d9d9', linewidths=0, zorder=2, label='Kuitu ka')
handles.append(h)
for i in range(len(tc_x)):
    h, = ax.plot(tc_x[i], tc_y[i], 'o', ms=9.4, color='#ff0000', zorder=4, label='TC %d' % (i + 1))
    handles.append(h)
for i in range(len(tc_x)):
    ax.errorbar(tc_x[i], kuitu_y[i], yerr=kuitu_err[i], fmt='none', ecolor='#595959',
                elinewidth=1.4, capsize=4, capthick=1.4, zorder=1.5)
    h, = ax.plot(tc_x[i], kuitu_y[i], 'o', ms=9.4, color='black', zorder=5, label='TC %d kuitu' % (i + 1))
    handles.append(h)

ax.set_xlim(2.8, 5.4)
ax.set_ylim(48, 54)
ax.set_xticks(x_ticks)
ax.set_xticklabels(x_tick_labels)
ax.set_yticks(y_ticks)
ax.tick_params(length=0, labelsize=16.2, labelcolor=txt)
ax.tick_params(axis='x', pad=11)
ax.tick_params(axis='y', pad=20)
ax.grid(color='#d9d9d9', lw=1.3)
ax.set_axisbelow(True)
for s in ['top', 'right', 'left']:
    ax.spines[s].set_visible(False)
ax.spines['bottom'].set_color('#bfbfbf')
ax.spines['bottom'].set_linewidth(1.3)

ax.set_xlabel('Matka [m]', fontsize=19, color=txt)
ax.set_ylabel('Lämpötila [°C]', fontsize=19, color=txt)
ax.xaxis.set_label_coords(0.5, -0.126)
ax.yaxis.set_label_coords(-0.054, 0.5)

# legend is filled column by column, so reorder to read row by row
ncol = 6
order = []
for c in range(ncol):
    order += list(range(c, len(handles), ncol))
leg = ax.legend([handles[k] for k in order], [handles[k].get_label() for k in order],
                ncol=ncol, loc='upper left', bbox_to_anchor=(110 / 1085, 1 - 25 / 555),
                bbox_transform=fig.transFigure, frameon=False, fontsize=16.9,
                labelcolor=txt, handlelength=0.6, handletextpad=0.26, columnspacing=1.755,
                labelspacing=0.46, borderpad=0, borderaxespad=0)

fig.savefig('out.png', dpi=100)
